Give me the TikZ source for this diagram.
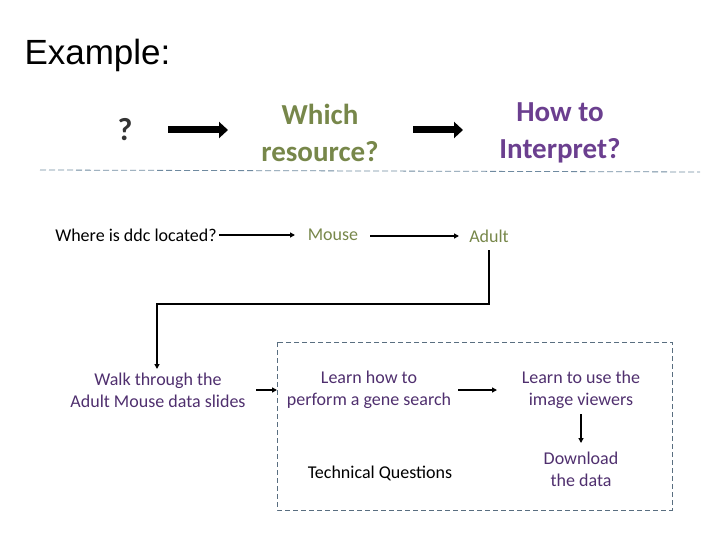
\documentclass[tikz,border=0pt]{standalone}
\usepackage{fontspec}
\setmainfont{Carlito}
\newfontfamily\arialf{Liberation Sans}
\usetikzlibrary{arrows.meta}
\definecolor{olivegr}{HTML}{77874A}
\definecolor{purp}{HTML}{6B3F8F}
\definecolor{txtpurp}{HTML}{4F2F6E}
\definecolor{dashc}{HTML}{6F8AA0}
\begin{document}
\begin{tikzpicture}[x=1pt,y=-1pt,
  head/.style={font=\fontsize{29}{37}\selectfont\bfseries, align=center},
  body/.style={font=\fontsize{18}{22}\selectfont, align=center, inner sep=1pt},
  thick arrow/.style={line width=7pt, -{Triangle[length=9pt,width=16pt]}},
  conn/.style={line width=1.3pt, -{Triangle[length=5pt,width=5pt]}}]
\useasboundingbox (0,0) rectangle (720,540);
\node[font=\arialf\fontsize{35}{38}\selectfont, anchor=west] (ex) at (21,55) {Example:};
\node[head, text=black!80, font=\fontsize{32}{36}\selectfont\bfseries] (q) at (125,130) {?};
\node[head, text=olivegr] (which) at (320,133) {Which\\resource?};
\node[head, text=purp] (how) at (560,133) {How to\\Interpret?};
\coordinate (a1s) at (168,130); \coordinate (a1e) at (228,130);
\coordinate (a2s) at (413,130); \coordinate (a2e) at (463,130);
\draw[thick arrow] (a1s) -- (a1e);
\draw[thick arrow] (a2s) -- (a2e);
\coordinate (dl) at (40,170); \coordinate (dr) at (700,172);
\draw[dashc, dashed, line width=0.8pt, dash pattern=on 6pt off 3pt] (dl) -- (dr);
\node[body] (where) at (136,235) {Where is ddc located?};
\node[body, text=olivegr] (mouse) at (333,235) {Mouse};
\node[body, text=olivegr] (adult) at (489,236) {Adult};
\draw[conn] (219,235) coordinate (m0) -- (295,235) coordinate (m1);
\draw[conn] (370,236) coordinate (n0) -- (459,236) coordinate (n1);
\node[body, text=txtpurp] (walk) at (158,390) {Walk through the\\Adult Mouse data slides};
\coordinate (c0) at (489,250); \coordinate (c1) at (489,304); \coordinate (c2) at (157,304); \coordinate (c3) at (157,369);
\draw[conn] (c0) -- (c1) -- (c2) -- (c3);
\coordinate (bx1) at (277,342); \coordinate (bx2) at (672,510);
\draw[dashc!80!black, dashed, line width=0.8pt, dash pattern=on 5pt off 3pt] (bx1) rectangle (bx2);
\node[body, text=txtpurp] (learn) at (369,390) {Learn how to\\perform a gene search};
\node[body, text=txtpurp] (view) at (581,390) {Learn to use the\\image viewers};
\node[body, text=txtpurp] (down) at (581,469) {Download\\the data};
\node[body] (tech) at (380,473) {Technical Questions};
\coordinate (b1) at (256,390); \coordinate (b2) at (277,390);
\draw[conn] (b1) -- (b2);
\draw[conn] (458,390) coordinate (l1) -- (497,390) coordinate (l2);
\draw[conn] (581,414) coordinate (v1) -- (581,443) coordinate (v2);
\end{tikzpicture}
\end{document}
